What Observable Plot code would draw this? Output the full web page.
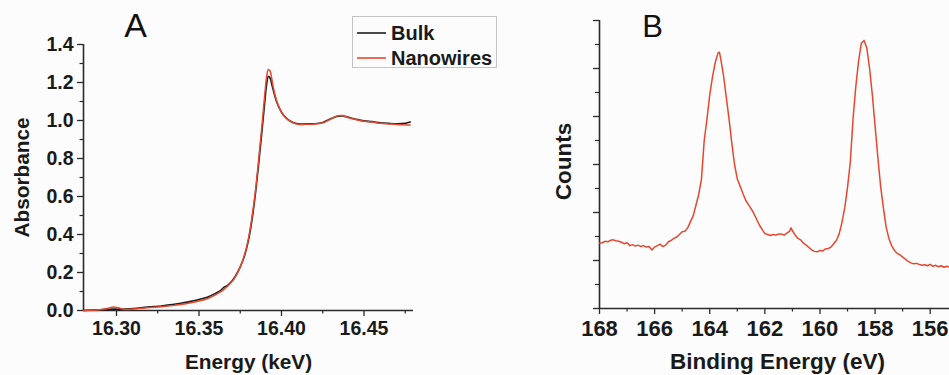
<!DOCTYPE html>
<html>
<head>
<meta charset="utf-8">
<script src="https://cdn.jsdelivr.net/npm/d3@7"></script>
<script src="https://cdn.jsdelivr.net/npm/@observablehq/plot@0.6"></script>
<style>
  html, body { margin: 0; padding: 0; background: #fcfcfc; }
  #wrap { position: relative; width: 949px; height: 375px; overflow: hidden; background: #fcfcfc;
          font-family: "Liberation Sans", Arial, sans-serif; }
  #wrap svg { position: absolute; top: 0; }
  #legend { position: absolute; left: 352px; top: 16px; width: 143px; height: 50px;
            border: 1px solid #c4c4c4; box-sizing: content-box; font-weight: bold; font-size: 20px; color: #1a1a1a; }
  #legend .row { position: absolute; left: 4px; height: 22px; display: flex; align-items: center; }
  #legend .row svg { position: static; margin-right: 5px; }
</style>
</head>
<body>
<div id="wrap">
  <div id="legend"></div>
</div>
<script>
// ---------- Panel A: XANES ----------
const aEnergy = [16.280,16.285,16.290,16.295,16.298,16.301,16.305,16.310,16.315,16.320,16.325,16.330,16.335,16.340,16.345,16.350,16.355,16.360,16.363,16.365,16.367,16.370,16.373,16.376,16.378,16.380,16.382,16.384,16.386,16.388,16.390,16.391,16.392,16.393,16.394,16.395,16.397,16.399,16.401,16.404,16.407,16.410,16.415,16.420,16.425,16.430,16.434,16.437,16.440,16.445,16.450,16.455,16.460,16.465,16.470,16.475,16.478];
const aBulk = [0.000,0.002,0.004,0.006,0.007,0.007,0.008,0.010,0.014,0.019,0.022,0.028,0.033,0.040,0.048,0.058,0.070,0.090,0.105,0.122,0.130,0.155,0.195,0.250,0.300,0.370,0.470,0.600,0.760,0.930,1.110,1.190,1.232,1.225,1.195,1.160,1.100,1.060,1.030,1.005,0.990,0.983,0.982,0.983,0.990,1.010,1.022,1.024,1.018,1.007,0.998,0.994,0.988,0.985,0.983,0.985,0.992];
const aNano = [0.000,0.001,0.004,0.012,0.018,0.014,0.006,0.008,0.012,0.016,0.018,0.022,0.027,0.033,0.041,0.050,0.062,0.082,0.098,0.110,0.125,0.152,0.192,0.252,0.305,0.380,0.485,0.615,0.780,0.960,1.150,1.230,1.268,1.262,1.225,1.175,1.105,1.060,1.030,1.003,0.988,0.980,0.980,0.981,0.988,1.008,1.025,1.026,1.016,1.005,0.996,0.992,0.985,0.982,0.979,0.977,0.976];
const aDomainX = [16.28, 16.48];
const aDomainY = [0, 1.4];
const aTicksX = [16.30, 16.35, 16.40, 16.45];
const aMinorX = [16.325, 16.375, 16.425, 16.475];
const aTicksY = [0, 0.2, 0.4, 0.6, 0.8, 1.0, 1.2, 1.4];
const aMinorY = [0.1, 0.3, 0.5, 0.7, 0.9, 1.1, 1.3];
const aSeries = ["Bulk", "Nanowires"];
const seriesColors = ["#1c1c1c", "#e5482e"];

// ---------- Panel B: XPS ----------
const bEnergy = [168.0,167.9,167.8,167.7,167.6,167.5,167.4,167.3,167.2,167.1,167.0,166.9,166.8,166.7,166.6,166.5,166.4,166.3,166.2,166.1,166.0,165.9,165.8,165.7,165.6,165.5,165.4,165.3,165.2,165.1,165.0,164.9,164.8,164.7,164.6,164.5,164.4,164.3,164.2,164.1,164.0,163.9,163.8,163.7,163.65,163.6,163.5,163.4,163.3,163.2,163.1,163.0,162.9,162.8,162.7,162.6,162.5,162.4,162.3,162.2,162.1,162.0,161.9,161.8,161.7,161.6,161.5,161.4,161.3,161.2,161.1,161.05,161.0,160.9,160.8,160.7,160.6,160.5,160.4,160.3,160.2,160.1,160.0,159.9,159.8,159.7,159.6,159.5,159.4,159.3,159.2,159.1,159.0,158.9,158.8,158.7,158.6,158.5,158.4,158.3,158.2,158.1,158.0,157.9,157.8,157.7,157.6,157.5,157.4,157.3,157.2,157.1,157.0,156.9,156.8,156.7,156.6,156.5,156.4,156.3,156.2,156.1,156.0,155.9,155.8,155.7,155.6,155.5,155.4,155.3];
const bCounts = [2.72,2.74,2.80,2.78,2.84,2.86,2.82,2.80,2.76,2.70,2.74,2.62,2.66,2.60,2.64,2.58,2.62,2.56,2.58,2.44,2.56,2.62,2.68,2.58,2.64,2.78,2.84,2.92,2.98,3.08,3.20,3.22,3.36,3.62,3.86,4.30,4.75,5.40,7.00,7.90,8.90,9.65,10.25,10.65,10.68,10.40,9.70,8.80,7.90,6.90,6.00,5.40,5.10,4.80,4.52,4.34,4.16,3.96,3.72,3.48,3.30,3.12,3.08,3.04,3.08,3.06,3.10,3.10,3.06,3.14,3.22,3.36,3.24,3.06,2.92,2.86,2.72,2.64,2.54,2.44,2.38,2.36,2.42,2.40,2.48,2.50,2.56,2.70,2.84,3.12,3.60,4.20,5.05,6.10,7.90,9.25,10.30,11.05,11.17,10.85,10.00,8.90,7.60,6.30,5.10,4.20,3.40,2.92,2.62,2.42,2.30,2.24,2.14,2.06,1.96,1.90,1.86,1.88,1.84,1.80,1.82,1.78,1.84,1.76,1.80,1.74,1.78,1.72,1.76,1.72];
const bDomainX = [168, 155.3];
const bDomainY = [0, 12];
const bTicksX = [168, 166, 164, 162, 160, 158, 156];
const bMinorX = [167, 165, 163, 161, 159, 157];
const bTicksY = [0, 2, 4, 6, 8, 10, 12];
const bMinorY = [1, 3, 5, 7, 9, 11];

const axisColor = "#2a2a2a";
const font = "'Liberation Sans', Arial, sans-serif";
const noLabel = () => "";

const aData = aEnergy.map((e, i) => ({e, bulk: aBulk[i], nano: aNano[i]}));
const bData = bEnergy.map((e, i) => ({e, c: bCounts[i]}));

const chartA = Plot.plot({
  width: 480, height: 375,
  marginLeft: 83, marginRight: 67, marginTop: 44, marginBottom: 65,
  style: {fontFamily: font, background: "transparent", color: axisColor, overflow: "visible"},
  x: {domain: aDomainX},
  y: {domain: aDomainY},
  marks: [
    Plot.axisX(aTicksX, {tickSize: 6, tickPadding: 5, tickFormat: d3.format(".2f"), fontSize: 19.5, fontWeight: "bold", label: null, strokeWidth: 1.3, fill: "#1a1a1a"}),
    Plot.axisX(aMinorX, {tickSize: 3.5, tickFormat: noLabel, label: null, strokeWidth: 1.2}),
    Plot.axisY(aTicksY, {tickSize: 6, tickPadding: 4, tickFormat: d3.format(".1f"), fontSize: 19.5, fontWeight: "bold", label: null, strokeWidth: 1.3, fill: "#1a1a1a"}),
    Plot.axisY(aMinorY, {tickSize: 3.5, tickFormat: noLabel, label: null, strokeWidth: 1.2}),
    Plot.ruleY([aDomainY[0]], {stroke: axisColor, strokeWidth: 1.6}),
    Plot.ruleX([aDomainX[0]], {stroke: axisColor, strokeWidth: 1.6}),
    Plot.line(aData, {x: "e", y: "bulk", stroke: seriesColors[0], strokeWidth: 1.6, curve: "catmull-rom"}),
    Plot.line(aData, {x: "e", y: "nano", stroke: seriesColors[1], strokeWidth: 1.5, curve: "catmull-rom"}),
    Plot.text(["Energy (keV)"], {frameAnchor: "bottom", dy: 52, textAnchor: "middle", lineAnchor: "middle", fontSize: 20.8, fontWeight: "bold", fill: "#1a1a1a"}),
    Plot.text(["Absorbance"], {frameAnchor: "left", dx: -61, rotate: -90, textAnchor: "middle", lineAnchor: "middle", fontSize: 20.8, fontWeight: "bold", fill: "#1a1a1a"}),
    Plot.text(["A"], {frameAnchor: "top-left", dx: 52, dy: -18, textAnchor: "middle", lineAnchor: "middle", fontSize: 34, fill: "#111"})
  ]
});
chartA.style.left = "0px";

const chartB = Plot.plot({
  width: 469, height: 375,
  marginLeft: 119, marginRight: 0, marginTop: 20, marginBottom: 67,
  style: {fontFamily: font, background: "transparent", color: axisColor, overflow: "visible"},
  x: {domain: bDomainX},
  y: {domain: bDomainY},
  marks: [
    Plot.axisX(bTicksX, {tickSize: 6, tickPadding: 6, tickFormat: d3.format("d"), fontSize: 22, fontWeight: "bold", label: null, strokeWidth: 1.3, fill: "#1a1a1a"}),
    Plot.axisX(bMinorX, {tickSize: 3.5, tickFormat: noLabel, label: null, strokeWidth: 1.2}),
    Plot.axisY(bTicksY, {tickSize: 6, tickFormat: noLabel, label: null, strokeWidth: 1.3}),
    Plot.axisY(bMinorY, {tickSize: 4, tickFormat: noLabel, label: null, strokeWidth: 1.2}),
    Plot.ruleY([bDomainY[0]], {stroke: axisColor, strokeWidth: 1.6}),
    Plot.ruleX([bDomainX[0]], {stroke: axisColor, strokeWidth: 1.6}),
    Plot.line(bData, {x: "e", y: "c", stroke: seriesColors[1], strokeWidth: 1.5}),
    Plot.text(["Binding Energy (eV)"], {frameAnchor: "bottom", dx: 3, dy: 53, textAnchor: "middle", lineAnchor: "middle", fontSize: 22.5, fontWeight: "bold", fill: "#1a1a1a"}),
    Plot.text(["Counts"], {frameAnchor: "left", dx: -36, dy: -3, rotate: -90, textAnchor: "middle", lineAnchor: "middle", fontSize: 22.5, fontWeight: "bold", fill: "#1a1a1a"}),
    Plot.text(["B"], {frameAnchor: "top-left", dx: 53, dy: 7, textAnchor: "middle", lineAnchor: "middle", fontSize: 31, fill: "#111"})
  ]
});
chartB.style.left = "480px";

const wrap = document.getElementById("wrap");
wrap.insertBefore(chartB, wrap.firstChild);
wrap.insertBefore(chartA, wrap.firstChild);

// legend (HTML)
const legend = document.getElementById("legend");
aSeries.forEach((name, i) => {
  const row = document.createElement("div");
  row.className = "row";
  row.style.top = (5 + i * 25) + "px";
  row.innerHTML = `<svg width="29" height="4"><line x1="0" x2="29" y1="2" y2="2" stroke="${seriesColors[i]}" stroke-width="1.6"/></svg><span>${name}</span>`;
  legend.appendChild(row);
});
</script>
</body>
</html>
